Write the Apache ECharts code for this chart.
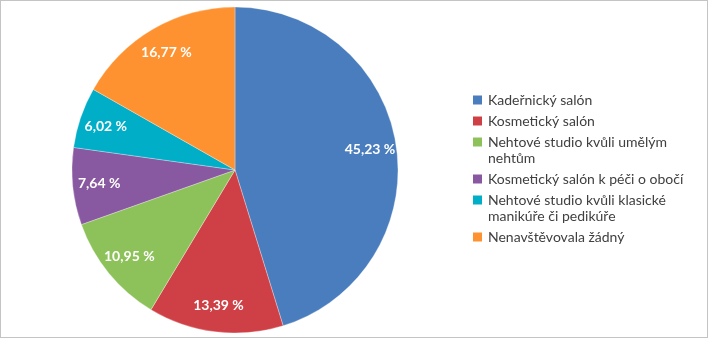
<!DOCTYPE html>
<html>
<head>
<meta charset="utf-8">
<script src="https://cdn.jsdelivr.net/npm/echarts@6/dist/echarts.min.js"></script>
<style>
html,body{margin:0;padding:0;background:#fff;}
#frame{position:absolute;left:0;top:0;width:706px;height:336px;border:1px solid #c4c4c4;background:#fff;}
#chart{position:absolute;left:0;top:0;width:709px;height:339px;}
</style>
</head>
<body>
<div id="frame"></div>
<div id="chart"></div>
<script>
const categories = [
  'Kadeřnický salón',
  'Kosmetický salón',
  'Nehtové studio kvůli umělým nehtům',
  'Kosmetický salón k péči o obočí',
  'Nehtové studio kvůli klasické manikúře či pedikúře',
  'Nenavštěvovala žádný'
];
const values = [45.23, 13.39, 10.95, 7.64, 6.02, 16.77];
const colors = ['#4A7DBD', '#CF4046', '#8DC25A', '#8858A0', '#00AEC8', '#FF9230'];
const legendLines = [
  ['Kadeřnický salón'],
  ['Kosmetický salón'],
  ['Nehtové studio kvůli umělým', 'nehtům'],
  ['Kosmetický salón k péči o obočí'],
  ['Nehtové studio kvůli klasické', 'manikúře či pedikúře'],
  ['Nenavštěvovala žádný']
];

const FONT = 'Lato, "Open Sans", sans-serif';
const pieData = categories.map((n, i) => ({ name: n, value: values[i], itemStyle: { color: colors[i] } }));
const labelData = categories.map((n, i) => ({ name: n, value: values[i] }));

const rich = {
  gap: { width: 6, height: 16, lineHeight: 16 },
  ind: { width: 15, height: 16, lineHeight: 16 }
};
colors.forEach((c, i) => { rich['sq' + i] = { width: 9, height: 9, backgroundColor: c }; });

const chart = echarts.init(document.getElementById('chart'), null, { renderer: 'canvas' });
chart.setOption({
  backgroundColor: 'transparent',
  animation: false,
  color: colors,
  legend: {
    orient: 'vertical',
    left: 468,
    top: 92,
    padding: 0,
    itemGap: 5,
    icon: 'none',
    itemWidth: 0,
    itemHeight: 16,
    data: categories,
    formatter: function (name) {
      const i = categories.indexOf(name);
      return legendLines[i].map((l, k) => (k === 0 ? '{sq' + i + '|}{gap|}' : '{ind|}') + l).join('\n');
    },
    textStyle: {
      fontFamily: FONT,
      fontSize: 14,
      color: '#404040',
      lineHeight: 16,
      rich: rich
    }
  },
  series: [
    {
      type: 'pie',
      center: [235, 170],
      radius: [0, 163],
      startAngle: 90,
      clockwise: true,
      label: { show: false },
      labelLine: { show: false },
      itemStyle: { borderColor: 'rgba(255,255,255,0.6)', borderWidth: 0.5 },
      emphasis: { scale: false },
      data: pieData
    },
    {
      type: 'pie',
      center: [235, 170],
      radius: [104, 163],
      startAngle: 90,
      clockwise: true,
      silent: true,
      itemStyle: { color: 'rgba(0,0,0,0)' },
      labelLine: { show: false },
      label: {
        show: true,
        position: 'inside',
        color: '#fff',
        fontFamily: FONT,
        fontWeight: 'bold',
        fontSize: 14,
        formatter: p => p.value.toFixed(2).replace('.', ',') + ' %'
      },
      data: labelData
    }
  ]
});
</script>
</body>
</html>
